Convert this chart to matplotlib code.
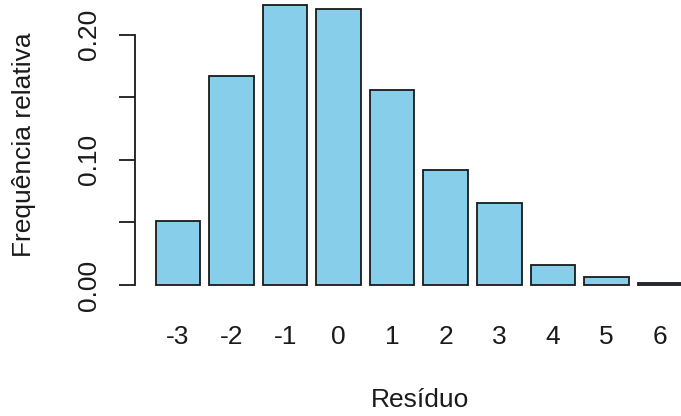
import numpy as np
import matplotlib.pyplot as plt
from matplotlib.ticker import FixedLocator

plt.rcParams['font.family'] = ['Liberation Sans', 'DejaVu Sans']

# Residual values and their relative frequencies
residuos = ['-3', '-2', '-1', '0', '1', '2', '3', '4', '5', '6']
freq_rel = [0.051, 0.1665, 0.2238, 0.2203, 0.1556, 0.0916, 0.0651, 0.0159, 0.0062, 0.0018]

# R-style barplot layout: width 1, space 0.2
pos = 0.7 + 1.2 * np.arange(len(residuos))
xlo, xhi = pos[0] - 0.5, pos[-1] + 0.5
ytop = max(freq_rel)

fig = plt.figure(figsize=(6.81, 4.16), dpi=100)
ax = fig.add_axes([0.1977, 0.288, 0.835, 0.7276])

ax.bar(pos, freq_rel, width=1.0, color='#87CEEB', edgecolor='#1a1a1a', linewidth=1.3)

ax.set_xlim(xlo - 0.04 * (xhi - xlo), xhi + 0.04 * (xhi - xlo))
ax.set_ylim(-0.04 * ytop, ytop * 1.04)

for s in ['top', 'right', 'bottom']:
    ax.spines[s].set_visible(False)
ax.spines['left'].set_bounds(0, 0.2)
ax.spines['left'].set_linewidth(1.3)
ax.spines['left'].set_color('#1a1a1a')

fs = 19
ax.set_xticks(pos)
ax.set_xticklabels(residuos, fontsize=fs, color='#1a1a1a')
ax.tick_params(axis='x', length=0, pad=21)

ax.yaxis.set_major_locator(FixedLocator([0.0, 0.1, 0.2]))
ax.yaxis.set_minor_locator(FixedLocator([0.05, 0.15]))
ax.set_yticklabels(['0.00', '0.10', '0.20'], rotation=90, va='center', fontsize=fs, color='#1a1a1a')
ax.tick_params(axis='y', which='both', length=11.5, width=1.3, color='#1a1a1a', pad=12.5)

fig.text(420 / 681, 1 - 400 / 416, 'Resíduo', ha='center', va='center', fontsize=fs, color='#1a1a1a')
fig.text(24 / 681, 1 - 145 / 416, 'Frequência relativa', ha='center', va='center',
         rotation=90, fontsize=fs, color='#1a1a1a')

fig.savefig('out.png', dpi=100)
